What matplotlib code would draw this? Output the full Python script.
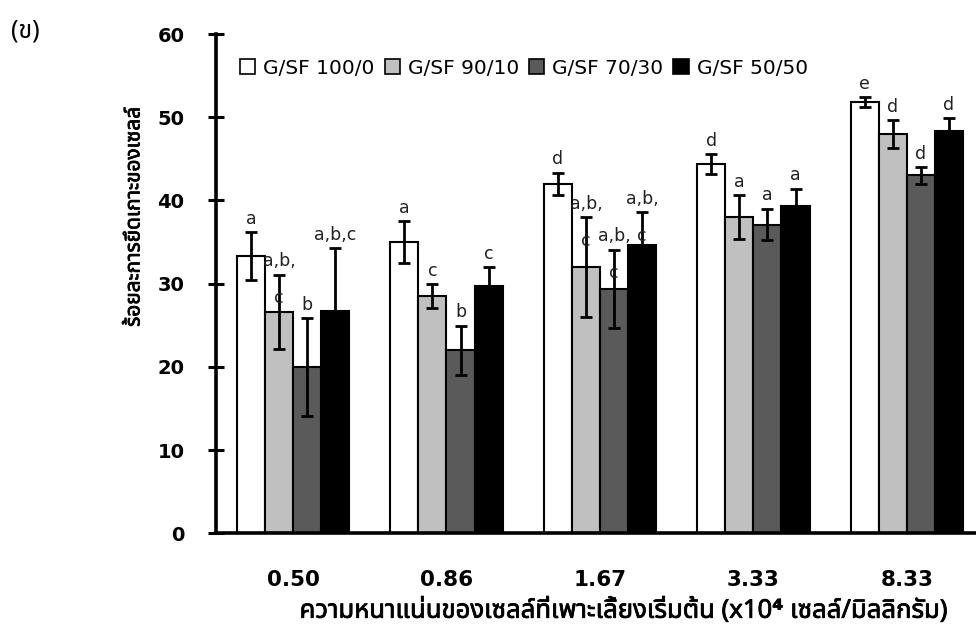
import matplotlib
matplotlib.use("Agg")
import matplotlib.pyplot as plt
from matplotlib import font_manager as fm
from matplotlib import patheffects as pe
from matplotlib.ft2font import FT2Font
import numpy as np

# ---- data -------------------------------------------------------------
densities = ["0.50", "0.86", "1.67", "3.33", "8.33"]
series_names = ["G/SF 100/0", "G/SF 90/10", "G/SF 70/30", "G/SF 50/50"]

gsf_100_0 = [33.3, 35.0, 42.0, 44.4, 51.8]
gsf_90_10 = [26.6, 28.5, 32.0, 38.0, 48.0]
gsf_70_30 = [20.0, 22.0, 29.4, 37.1, 43.0]
gsf_50_50 = [26.7, 29.7, 34.7, 39.3, 48.3]

err_100_0 = [2.9, 2.5, 1.35, 1.2, 0.6]
err_90_10 = [4.5, 1.45, 6.0, 2.65, 1.65]
err_70_30 = [5.85, 2.95, 4.7, 1.9, 1.0]
err_50_50 = [7.6, 2.25, 3.9, 2.1, 1.6]

letters_100_0 = ["a", "a", "d", "d", "e"]
letters_90_10 = ["a,b,\nc", "c", "a,b,\nc", "a", "d"]
letters_70_30 = ["b", "b", "a,b,\nc", "a", "d"]
letters_50_50 = ["a,b,c", "c", "a,b,\nc", "a", "d"]

y_label = "ร้อยละการยึดเกาะของเซลล์"
x_label = "ความหนาแน่นของเซลล์ที่เพาะเลี้ยงเริ่มต้น (x10⁴ เซลล์/มิลลิกรัม)"
panel_label = "(ข)"


# ---- fonts ------------------------------------------------------------
def find_thai_family():
    preferred = ["Tahoma", "Leelawadee UI", "Noto Sans Thai", "Loma", "Garuda",
                 "Sarabun", "Kinnari", "Norasi", "Waree", "Umpush"]
    found = []
    for f in fm.fontManager.ttflist:
        try:
            cmap = FT2Font(f.fname).get_charmap()
        except Exception:
            continue
        if 0x0E22 in cmap and 0x0E48 in cmap:
            found.append(f.name)
    for p in preferred:
        if p in found:
            return p
    return found[0] if found else "DejaVu Sans"


thai = find_thai_family()
fam = [thai, "DejaVu Sans"]
latin = ["DejaVu Sans"]
heavy = [pe.withStroke(linewidth=0.55, foreground="black")]

# ---- figure -----------------------------------------------------------
W, H = 976, 630
fig = plt.figure(figsize=(W / 100, H / 100), dpi=100)
ax_left, ax_right = 216.3 / W, 983.6 / W
ax_top, ax_bottom = 34.0 / H, 533.4 / H
ax = fig.add_axes([ax_left, 1 - ax_bottom, ax_right - ax_left, ax_bottom - ax_top])

series = [gsf_100_0, gsf_90_10, gsf_70_30, gsf_50_50]
errors = [err_100_0, err_90_10, err_70_30, err_50_50]
letters = [letters_100_0, letters_90_10, letters_70_30, letters_50_50]
colors = ["#ffffff", "#c0c0c0", "#5a5a5a", "#000000"]

x = np.arange(len(densities))
bw = 0.183
offsets = (np.arange(4) - 1.5) * bw

handles = []
for i in range(4):
    bars = ax.bar(x + offsets[i], series[i], width=bw, color=colors[i],
                  edgecolor="black", linewidth=1.5, zorder=2,
                  label=series_names[i])
    handles.append(bars)
    ax.errorbar(x + offsets[i], series[i], yerr=errors[i], fmt="none",
                ecolor="black", elinewidth=2.0, capsize=4.3, capthick=2.0,
                zorder=3)
    for j in range(len(densities)):
        top = series[i][j] + errors[i][j]
        for k, line in enumerate(letters[i][j].split("\n")):
            ax.annotate(line, (x[j] + offsets[i], top),
                        xytext=(0, 6 - 26.5 * k), textcoords="offset points",
                        ha="center", va="baseline", fontsize=12.5,
                        family=latin, color="#222222", zorder=4)

ax.set_xlim(-0.5, len(densities) - 0.5)
ax.set_ylim(0, 60)
ax.set_yticks(np.arange(0, 61, 10))
ax.set_xticks(x)
ax.set_xticklabels(densities)
for s in ["top", "right"]:
    ax.spines[s].set_visible(False)
for s in ["left", "bottom"]:
    ax.spines[s].set_linewidth(2.6)
    ax.spines[s].set_zorder(5)
ax.tick_params(axis="y", direction="inout", length=12, width=2.2,
               pad=17, labelsize=14)
ax.tick_params(axis="x", length=0, pad=26, labelsize=15.5)
for lab in ax.get_yticklabels() + ax.get_xticklabels():
    lab.set_fontweight("bold")
    lab.set_family(latin)

leg = ax.legend(handles=handles, ncol=4, frameon=False,
                loc="center left",
                bbox_to_anchor=(240 / W, 1 - 68 / H),
                bbox_transform=fig.transFigure,
                borderpad=0, borderaxespad=0,
                handlelength=0.75, handleheight=0.75,
                handletextpad=0.4, columnspacing=0.5,
                prop={"family": latin, "size": 14.5})
for p in leg.get_patches():
    p.set_linewidth(1.2)

fig.text(134 / W, 1 - 217 / H, y_label, rotation=90, ha="center",
         va="center", fontsize=15, fontweight="bold", family=fam,
         path_effects=heavy)
fig.text(624 / W, 1 - 611 / H, x_label, ha="center", va="center",
         fontsize=18.5, fontweight="bold", family=fam, path_effects=heavy)
fig.text(25 / W, 1 - 31 / H, panel_label, ha="center", va="center",
         fontsize=18, family=fam)

fig.savefig("out.png", dpi=100)
